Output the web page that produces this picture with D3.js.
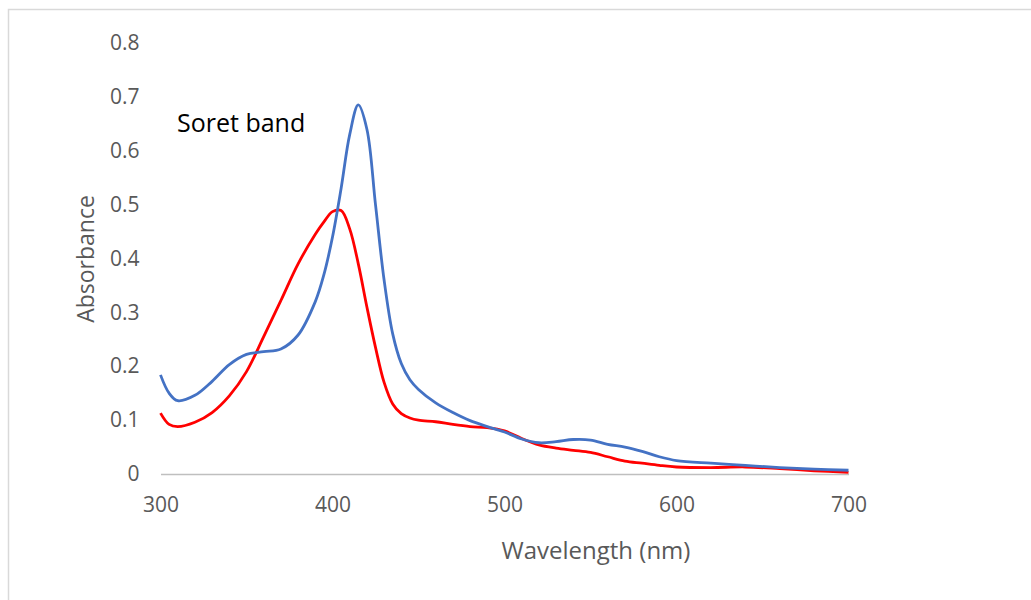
<!DOCTYPE html>
<html>
<head>
<meta charset="utf-8">
<script src="https://cdn.jsdelivr.net/npm/d3@7"></script>
<style>
  body { margin: 0; background: #fff; }
  text { font-family: "Open Sans", sans-serif; }
</style>
</head>
<body>
<div class="visholder"></div>
<script>
let width = 1031,
    height = 600;

const margin = { top: 43, right: 182.5, bottom: 126, left: 160.5 };

// wavelength (nm)
const wavelengths = [300, 305, 310, 320, 330, 340, 350, 360, 370, 380, 390, 395, 400, 405, 410, 415, 420, 425, 430, 435, 440, 445, 450, 460, 470, 480, 490, 500, 510, 520, 530, 540, 550, 560, 570, 580, 590, 600, 620, 640, 660, 680, 700];

const blueValues = [0.184, 0.15, 0.136, 0.146, 0.172, 0.203, 0.222, 0.227, 0.232, 0.258, 0.32, 0.37, 0.44, 0.53, 0.63, 0.685, 0.64, 0.5, 0.36, 0.26, 0.205, 0.175, 0.157, 0.132, 0.114, 0.099, 0.088, 0.078, 0.065, 0.058, 0.06, 0.064, 0.063, 0.055, 0.05, 0.042, 0.032, 0.025, 0.02, 0.016, 0.012, 0.009, 0.007];

const redValues = [0.113, 0.092, 0.088, 0.096, 0.114, 0.145, 0.19, 0.255, 0.322, 0.39, 0.445, 0.468, 0.487, 0.489, 0.455, 0.39, 0.31, 0.235, 0.17, 0.13, 0.112, 0.104, 0.1, 0.097, 0.092, 0.088, 0.086, 0.08, 0.066, 0.054, 0.048, 0.044, 0.04, 0.032, 0.024, 0.02, 0.016, 0.013, 0.012, 0.013, 0.01, 0.006, 0.003];

const xTicks = [300, 400, 500, 600, 700];
const yTicks = [0, 0.1, 0.2, 0.3, 0.4, 0.5, 0.6, 0.7, 0.8];

const colors = ["#4472c4", "#ff0000"];

var svg = d3.select(".visholder")
    .append("svg")
    .attr("width", width)
    .attr("height", height);

// chart area border
svg.append("rect")
    .attr("x", 8.5)
    .attr("y", 9.5)
    .attr("width", width + 20)
    .attr("height", height + 20)
    .attr("fill", "#fff")
    .attr("stroke", "#d9d9d9")
    .attr("stroke-width", 1.5);

var x = d3.scaleLinear().domain([300, 700]).range([margin.left, width - margin.right]);
var y = d3.scaleLinear().domain([0, 0.8]).range([height - margin.bottom, margin.top]);

var xAxis = d3.axisBottom(x).tickValues(xTicks).tickSize(0).tickPadding(23).tickFormat(d3.format('d'));
var yAxis = d3.axisLeft(y).tickValues(yTicks).tickSize(0).tickPadding(21)
    .tickFormat(function (d) { return d === 0 ? "0" : d.toFixed(1); });

svg.append('g')
    .attr('class', 'x axis')
    .attr('transform', `translate(0,${y(0)})`)
    .call(xAxis)
    .call(g => g.select('.domain').attr('stroke', '#bfbfbf').attr('stroke-width', 1.5))
    .call(g => g.selectAll('text').attr('fill', '#595959').style('font-size', '21px'));

svg.append('g')
    .attr('class', 'y axis')
    .attr('transform', `translate(${margin.left},0)`)
    .call(yAxis)
    .call(g => g.select('.domain').remove())
    .call(g => g.selectAll('text').attr('fill', '#595959').style('font-size', '21px'));

svg.append('text')
    .attr('x', 596)
    .attr('y', 559)
    .attr('text-anchor', 'middle')
    .attr('fill', '#595959')
    .style('font-size', '24px')
    .text('Wavelength (nm)');

svg.append('text')
    .attr('transform', `translate(94, 259) rotate(-90)`)
    .attr('text-anchor', 'middle')
    .attr('fill', '#595959')
    .style('font-size', '23px')
    .text('Absorbance');

svg.append('text')
    .attr('x', 177)
    .attr('y', 132)
    .attr('fill', '#000')
    .style('font-size', '25px')
    .text('Soret band');

var line = d3.line()
    .x(function (d) { return x(d[0]); })
    .y(function (d) { return y(d[1]); })
    .curve(d3.curveCatmullRom.alpha(0.5));

[redValues, blueValues].forEach(function (vals, i) {
    svg.append('path')
        .datum(wavelengths.map(function (w, j) { return [w, vals[j]]; }))
        .attr('fill', 'none')
        .attr('stroke', i === 0 ? colors[1] : colors[0])
        .attr('stroke-width', 2.8)
        .attr('stroke-linejoin', 'round')
        .attr('d', line);
});
</script>
</body>
</html>
